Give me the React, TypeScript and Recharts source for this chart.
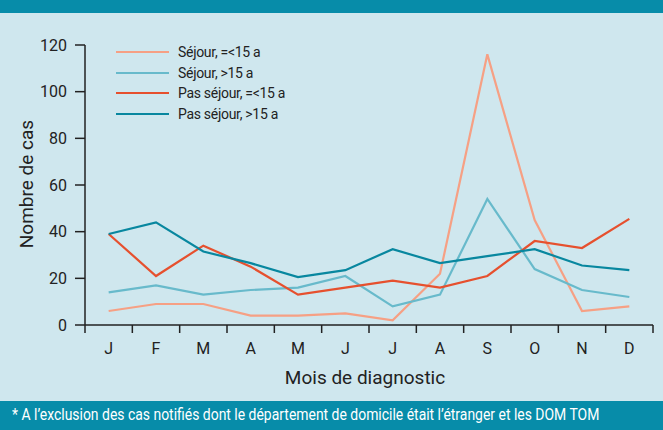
import { LineChart, Line, XAxis, YAxis } from "recharts";

const MONTHS: string[] = ["J", "F", "M", "A", "M", "J", "J", "A", "S", "O", "N", "D"];
const SEJOUR_MOINS15: number[] = [6, 9, 9, 4, 4, 5, 2, 22, 116, 45, 6, 8];
const SEJOUR_PLUS15: number[] = [14, 17, 13, 15, 16, 21, 8, 13, 54, 24, 15, 12];
const PAS_SEJOUR_MOINS15: number[] = [39, 21, 34, 25, 13, 16, 19, 16, 21, 36, 33, 45.5];
const PAS_SEJOUR_PLUS15: number[] = [39, 44, 31.5, 26.5, 20.5, 23.5, 32.5, 26.5, 29.5, 32.5, 25.5, 23.5];
const Y_TICKS: number[] = [0, 20, 40, 60, 80, 100, 120];

const FONT = "Roboto, 'Open Sans', sans-serif";
const BG = "#cfe7ee";
const BAND = "#078ca9";
const INK = "#222";

const SERIES = [
  { key: "s1", name: "Séjour, =<15 a", color: "#f6a084", values: SEJOUR_MOINS15 },
  { key: "s2", name: "Séjour, >15 a", color: "#68bacb", values: SEJOUR_PLUS15 },
  { key: "s3", name: "Pas séjour, =<15 a", color: "#e6502e", values: PAS_SEJOUR_MOINS15 },
  { key: "s4", name: "Pas séjour, >15 a", color: "#08879f", values: PAS_SEJOUR_PLUS15 },
];

const data = MONTHS.map((m, i) => {
  const row: Record<string, number | string> = { x: i, month: m };
  SERIES.forEach((s) => {
    row[s.key] = s.values[i];
  });
  return row;
});

// ticks on month boundaries (x.5) get a tick mark, ticks on integers get the label
const X_TICKS: number[] = [];
for (let i = -0.5; i <= 11.5; i += 0.5) X_TICKS.push(i);

function MonthTick(props: any) {
  const { x, y, payload } = props;
  const v = payload.value as number;
  if (Math.abs(v % 1) === 0.5) {
    return <line x1={x} y1={y} x2={x} y2={y + 8} stroke={INK} strokeWidth={1.5} />;
  }
  return (
    <text x={x} y={y + 29} textAnchor="middle" fill={INK} fontSize={16} fontFamily={FONT}>
      {MONTHS[v]}
    </text>
  );
}

function LegendBox() {
  return (
    <div
      style={{
        position: "absolute",
        left: 116,
        top: 42,
        fontSize: 14,
        color: INK,
        letterSpacing: -0.3,
      }}
    >
      {SERIES.map((s) => (
        <div key={s.key} style={{ display: "flex", alignItems: "center", height: 20.5 }}>
          <div style={{ width: 53, height: 2, background: s.color, marginRight: 9 }} />
          <span>{s.name}</span>
        </div>
      ))}
    </div>
  );
}

export default function App() {
  return (
    <div
      style={{
        position: "absolute",
        left: 0,
        top: 0,
        width: 663,
        height: 430,
        background: BG,
        overflow: "hidden",
        fontFamily: FONT,
      }}
    >
      <div style={{ position: "absolute", left: 0, top: 0, width: 663, height: 13, background: BAND }} />
      <LineChart
        width={663}
        height={430}
        data={data}
        margin={{ top: 45, right: 10, bottom: 75, left: 25 }}
      >
        <XAxis
          dataKey="x"
          type="number"
          domain={[-0.5, 11.5]}
          ticks={X_TICKS}
          interval={0}
          tick={MonthTick}
          tickLine={false}
          tickSize={0}
          tickMargin={0}
          axisLine={{ stroke: INK, strokeWidth: 1.5 }}
          height={30}
        />
        <YAxis
          domain={[0, 120]}
          ticks={Y_TICKS}
          interval={0}
          width={60}
          tickSize={10}
          tickMargin={8}
          tick={{ fill: INK, fontSize: 16, fontFamily: FONT }}
          tickLine={{ stroke: INK, strokeWidth: 1.5 }}
          axisLine={{ stroke: INK, strokeWidth: 1.5 }}
        />
        {SERIES.map((s) => (
          <Line
            key={s.key}
            dataKey={s.key}
            name={s.name}
            stroke={s.color}
            strokeWidth={2.2}
            dot={false}
            type="linear"
            isAnimationActive={false}
          />
        ))}
      </LineChart>
      <LegendBox />
      <div
        style={{
          position: "absolute",
          left: 26,
          top: 184,
          transform: "translate(-50%, -50%) rotate(-90deg)",
          fontSize: 19,
          color: INK,
          whiteSpace: "nowrap",
        }}
      >
        Nombre de cas
      </div>
      <div
        style={{
          position: "absolute",
          left: 365,
          top: 377,
          transform: "translate(-50%, -50%)",
          fontSize: 19,
          color: INK,
          whiteSpace: "nowrap",
        }}
      >
        Mois de diagnostic
      </div>
      <div
        style={{
          position: "absolute",
          left: 0,
          top: 401,
          width: 663,
          height: 29,
          background: BAND,
        }}
      >
        <span
          style={{
            position: "absolute",
            left: 12,
            top: 3,
            color: "#fff",
            fontSize: 17,
            whiteSpace: "nowrap",
            transform: "scaleX(0.82)",
            transformOrigin: "left center",
          }}
        >
          * A l’exclusion des cas notifiés dont le département de domicile était l’étranger et les DOM TOM
        </span>
      </div>
    </div>
  );
}
